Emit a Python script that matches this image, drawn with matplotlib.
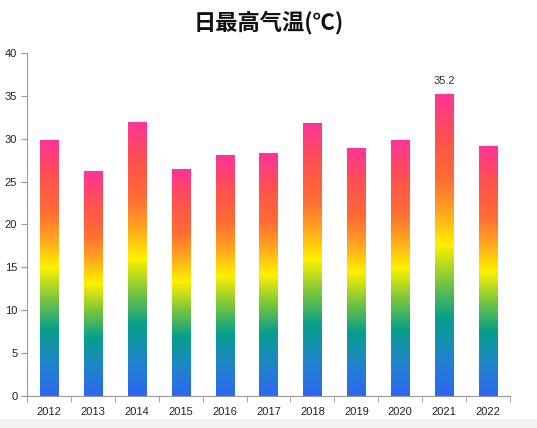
import numpy as np
import matplotlib.pyplot as plt
from matplotlib.colors import LinearSegmentedColormap
from matplotlib.patches import Rectangle

plt.rcParams['font.family'] = ['Liberation Sans', 'Noto Sans CJK SC', 'DejaVu Sans']

# data
years = ['2012', '2013', '2014', '2015', '2016', '2017', '2018', '2019', '2020', '2021', '2022']
tmax = [29.9, 26.2, 32.0, 26.5, 28.1, 28.3, 31.8, 28.9, 29.8, 35.2, 29.1]
label_year = '2021'

# rainbow gradient that each bar carries (bottom -> top)
grad = LinearSegmentedColormap.from_list('rainbow_bar', [
    (0.00, '#2f66f2'),
    (0.13, '#1f86c8'),
    (0.26, '#07a08a'),
    (0.38, '#7cc63c'),
    (0.50, '#fff000'),
    (0.62, '#ffa020'),
    (0.72, '#ff6c34'),
    (0.86, '#ff5050'),
    (1.00, '#ff3399'),
])

fig = plt.figure(figsize=(5.37, 4.28), dpi=100)
ax = fig.add_axes([27 / 537, 32 / 428, 483 / 537, 343 / 428])

x = np.arange(len(years))
bars = ax.bar(x, tmax, width=0.41, color='none', edgecolor='none')

g = np.linspace(0, 1, 256).reshape(-1, 1)
for b in bars:
    x0, w, h = b.get_x(), b.get_width(), b.get_height()
    im = ax.imshow(g, cmap=grad, origin='lower', aspect='auto',
                   extent=[x0, x0 + w, 0, h], interpolation='bilinear', zorder=2)
    im.set_clip_path(b)

i = years.index(label_year)
ax.text(x[i], tmax[i] + 1.0, f'{tmax[i]:.1f}', ha='center', va='bottom',
        fontsize=8, color='#333333')

ax.set_xlim(-0.5, len(years) - 0.5)
ax.set_ylim(0, 40)
ax.set_yticks(np.arange(0, 41, 5))
ax.set_xticks(x)
ax.set_xticklabels(years)
ax.set_xticks(np.arange(-0.5, len(years), 1), minor=True)
ax.tick_params(axis='x', which='major', length=0, pad=8, labelsize=8, labelcolor='#222222')
ax.tick_params(axis='x', which='minor', length=4, color='#999999', direction='out')
ax.tick_params(axis='y', length=4, color='#999999', labelsize=8, labelcolor='#222222', pad=3)

for s in ['top', 'right']:
    ax.spines[s].set_visible(False)
for s in ['left', 'bottom']:
    ax.spines[s].set_color('#999999')
    ax.spines[s].set_linewidth(0.8)

fig.text(0.5, 0.947, '日最高气温(℃)', ha='center', va='center',
         fontsize=16, fontweight='bold', color='#111111',
         family=['Noto Sans CJK SC', 'DejaVu Sans'])

# grey strip along the bottom edge
fig.patches.append(Rectangle((0, 0), 1, 9 / 428, transform=fig.transFigure,
                             facecolor='#f3f3f3', edgecolor='none'))

fig.savefig('out.png', dpi=100)
